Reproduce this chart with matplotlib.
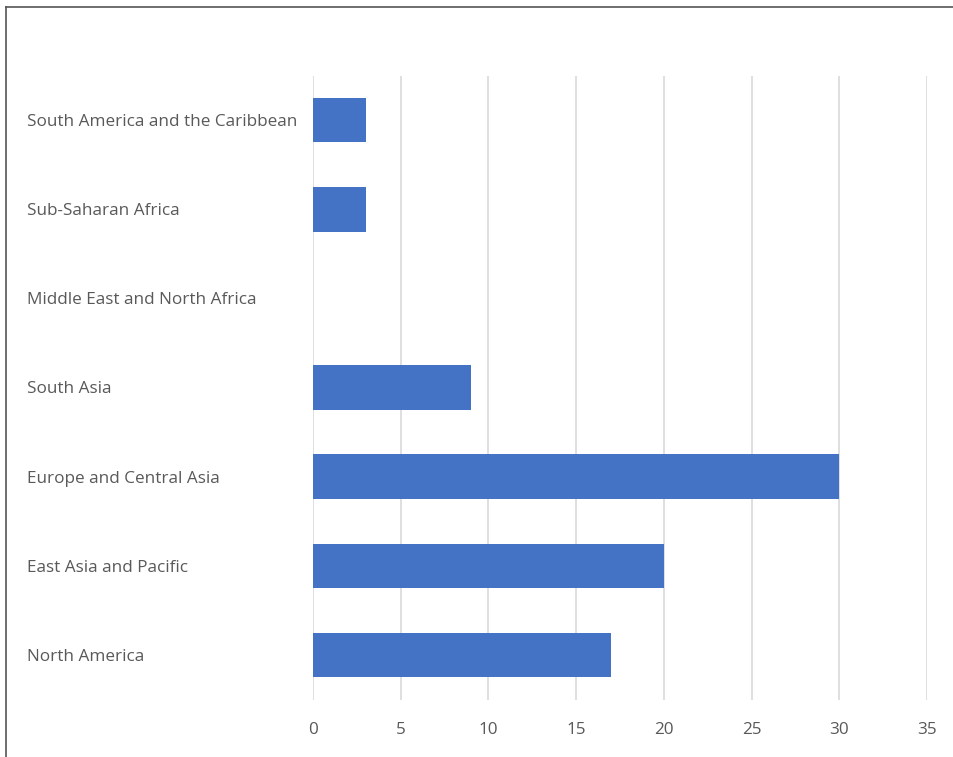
import matplotlib
matplotlib.use("Agg")
import matplotlib.pyplot as plt
from matplotlib.lines import Line2D

# ── Data ───────────────────────────────────────────────────────────────────
REGIONS = [
    "North America",
    "East Asia and Pacific",
    "Europe and Central Asia",
    "South Asia",
    "Middle East and North Africa",
    "Sub-Saharan Africa",
    "South America and the Caribbean",
]
VALUES = [17, 20, 30, 9, 0, 3, 3]
XTICKS = [0, 5, 10, 15, 20, 25, 30, 35]

# ── Style ──────────────────────────────────────────────────────────────────
BAR   = "#4472C4"
GRID  = "#D9D9D9"
TEXT  = "#595959"
FRAME = "#555555"
W, H, DPI = 954, 757, 100
PX = 72 / DPI   # points per pixel

plt.rcParams["font.family"] = ["Open Sans", "DejaVu Sans"]

fig = plt.figure(figsize=(W / DPI, H / DPI), dpi=DPI)
fig.patch.set_facecolor("white")

left, right = 313 / W, 927 / W
bottom, top = 1 - 699.5 / H, 1 - 75.5 / H
ax = fig.add_axes([left, bottom, right - left, top - bottom])

ypos = list(range(len(REGIONS)))
ax.barh(ypos, VALUES, height=0.5, color=BAR, zorder=3)

ax.set_xlim(0, 35)
ax.set_ylim(-0.5, len(REGIONS) - 0.5)
ax.set_xticks(XTICKS)
ax.set_xticklabels([str(t) for t in XTICKS])
ax.set_yticks(ypos)
ax.set_yticklabels(REGIONS, ha="left")

ax.grid(axis="x", color=GRID, linewidth=1.2, zorder=0)
ax.grid(axis="y", visible=False)
for s in ax.spines.values():
    s.set_visible(False)

ax.tick_params(axis="both", length=0, labelsize=12.3, labelcolor=TEXT)
ax.tick_params(axis="y", pad=286 * PX)
ax.tick_params(axis="x", pad=22 * PX)

# ── Frame (left + top edges only) ──────────────────────────────────────────
fig.add_artist(Line2D([6 / W, 6 / W], [0, 1 - 7 / H], color=FRAME,
                      linewidth=1.2, transform=fig.transFigure))
fig.add_artist(Line2D([6 / W, 1], [1 - 7 / H, 1 - 7 / H], color=FRAME,
                      linewidth=1.2, transform=fig.transFigure))

fig.savefig("out.png", dpi=DPI, facecolor="white")
plt.close(fig)
